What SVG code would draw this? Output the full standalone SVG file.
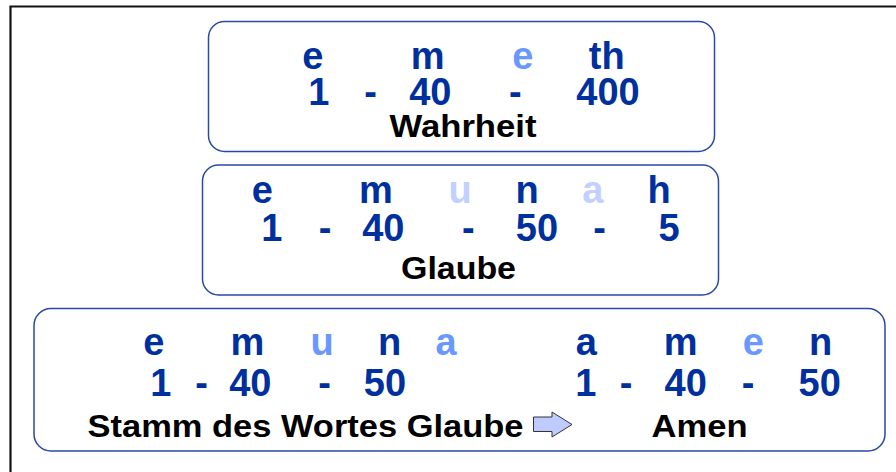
<svg xmlns="http://www.w3.org/2000/svg" width="896" height="472" viewBox="0 0 896 472">
<style>
.box{fill:#fff;stroke:#2A48A8;stroke-width:1.5}
.b{font-family:"Liberation Sans",Arial,sans-serif;font-weight:bold;font-size:38px;fill:#00309E;text-anchor:middle}
.l{fill:#6A98FF}
.vl{fill:#C2D0FF}
.k{font-family:"Liberation Sans",Arial,sans-serif;font-weight:bold;font-size:31px;fill:#000}
.frame{stroke:#111;stroke-width:2.2;fill:none}
.arr{fill:#BFCBFF;stroke:#333;stroke-width:1}
</style>
<rect width="896" height="472" fill="#fff"/>
<path class="frame" d="M10.5 472 V6.5 H896"/>
<g id="emeth">
<rect class="box" x="208.5" y="21.5" width="506" height="130" rx="16"/>
<text class="b" x="312.7" y="69">e</text>
<text class="b" x="427.7" y="69">m</text>
<text class="b l" x="522.7" y="69">e</text>
<text class="b" x="606.7" y="69">th</text>
<text class="b" x="318.7" y="105">1</text>
<text class="b" x="370.7" y="105">-</text>
<text class="b" x="430.3" y="105">40</text>
<text class="b" x="515.3" y="105">-</text>
<text class="b" x="608" y="105">400</text>
<text class="k" x="389.5" y="136.7" textLength="147" lengthAdjust="spacingAndGlyphs">Wahrheit</text>
</g>
<g id="emunah">
<rect class="box" x="202.5" y="165" width="516" height="130" rx="16"/>
<text class="b" x="262.3" y="202.7">e</text>
<text class="b" x="376" y="202.7">m</text>
<text class="b vl" x="460" y="202.7">u</text>
<text class="b" x="527" y="202.7">n</text>
<text class="b vl" x="592.7" y="202.7">a</text>
<text class="b" x="659" y="202.7">h</text>
<text class="b" x="271.7" y="240.7">1</text>
<text class="b" x="325" y="240.7">-</text>
<text class="b" x="383.3" y="240.7">40</text>
<text class="b" x="468.3" y="240.7">-</text>
<text class="b" x="537" y="240.7">50</text>
<text class="b" x="599.7" y="240.7">-</text>
<text class="b" x="669" y="240.7">5</text>
<text class="k" x="401" y="279.3" textLength="115" lengthAdjust="spacingAndGlyphs">Glaube</text>
</g>
<g id="emuna-amen">
<rect class="box" x="34" y="308.5" width="851" height="142.5" rx="17"/>
<text class="b" x="153.8" y="355">e</text>
<text class="b" x="247.3" y="355">m</text>
<text class="b l" x="322" y="355">u</text>
<text class="b" x="389.7" y="355">n</text>
<text class="b l" x="446" y="355">a</text>
<text class="b" x="160.7" y="395.7">1</text>
<text class="b" x="201.7" y="395.7">-</text>
<text class="b" x="250.3" y="395.7">40</text>
<text class="b" x="324.7" y="395.7">-</text>
<text class="b" x="385" y="395.7">50</text>
<text class="b" x="586.3" y="355">a</text>
<text class="b" x="680.7" y="355">m</text>
<text class="b l" x="753.3" y="355">e</text>
<text class="b" x="820.7" y="355">n</text>
<text class="b" x="585.7" y="395.7">1</text>
<text class="b" x="626" y="395.7">-</text>
<text class="b" x="685.7" y="395.7">40</text>
<text class="b" x="748" y="395.7">-</text>
<text class="b" x="819.7" y="395.7">50</text>
<text class="k" x="87.5" y="436.7" textLength="436" lengthAdjust="spacingAndGlyphs">Stamm des Wortes Glaube</text>
<text class="k" x="651.5" y="436.7" textLength="96" lengthAdjust="spacingAndGlyphs">Amen</text>
</g>
<g id="connectors">
<polygon class="arr" points="533.5,417 552,417 552,412 572,424.5 552,437 552,431.5 533.5,431.5"/>
</g>
</svg>
